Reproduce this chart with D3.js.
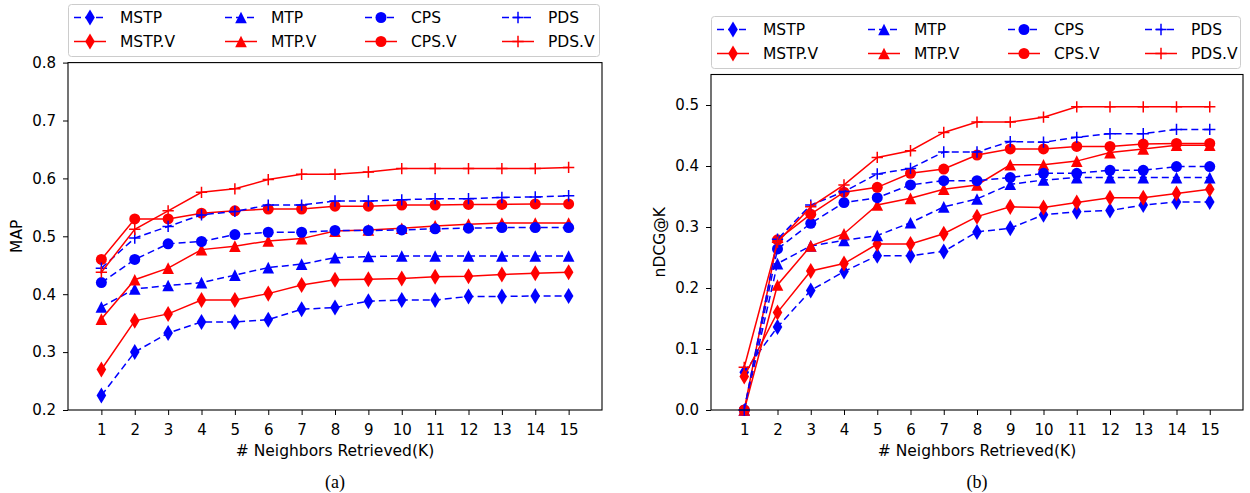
<!DOCTYPE html>
<html>
<head>
<meta charset="utf-8">
<script src="https://cdn.jsdelivr.net/npm/d3@7/dist/d3.min.js"></script>
<style>
  body { margin: 0; background: #fff; }
  svg { display: block; }
  text { font-family: "DejaVu Sans", sans-serif; fill: #000; }
</style>
</head>
<body>
<svg id="chart" width="1250" height="493"></svg>
<script>
// K values on the x axis
var ks = [1, 2, 3, 4, 5, 6, 7, 8, 9, 10, 11, 12, 13, 14, 15];

// (a) MAP
var mapMSTP  = [0.225, 0.300, 0.333, 0.352, 0.352, 0.356, 0.374, 0.377, 0.388, 0.390, 0.390, 0.396, 0.396, 0.397, 0.397];
var mapMSTPV = [0.270, 0.354, 0.366, 0.390, 0.390, 0.401, 0.416, 0.425, 0.426, 0.427, 0.430, 0.431, 0.434, 0.436, 0.438];
var mapMTP   = [0.378, 0.409, 0.415, 0.420, 0.433, 0.446, 0.452, 0.463, 0.465, 0.466, 0.466, 0.466, 0.466, 0.466, 0.466];
var mapMTPV  = [0.357, 0.425, 0.445, 0.477, 0.483, 0.492, 0.496, 0.509, 0.511, 0.514, 0.518, 0.521, 0.523, 0.523, 0.523];
var mapCPS   = [0.420, 0.460, 0.487, 0.491, 0.503, 0.507, 0.507, 0.510, 0.510, 0.511, 0.513, 0.514, 0.515, 0.515, 0.515];
var mapCPSV  = [0.460, 0.530, 0.530, 0.540, 0.544, 0.547, 0.547, 0.552, 0.552, 0.554, 0.554, 0.555, 0.555, 0.556, 0.556];
var mapPDS   = [0.445, 0.497, 0.517, 0.537, 0.543, 0.554, 0.554, 0.561, 0.561, 0.563, 0.565, 0.565, 0.567, 0.568, 0.570];
var mapPDSV  = [0.438, 0.512, 0.544, 0.576, 0.582, 0.598, 0.607, 0.607, 0.611, 0.617, 0.617, 0.617, 0.617, 0.617, 0.619];

// (b) nDCG@K
var ndcgMSTP  = [0.062, 0.136, 0.196, 0.227, 0.253, 0.253, 0.260, 0.292, 0.298, 0.320, 0.325, 0.327, 0.336, 0.341, 0.341];
var ndcgMSTPV = [0.055, 0.160, 0.228, 0.240, 0.272, 0.272, 0.289, 0.317, 0.333, 0.332, 0.340, 0.348, 0.348, 0.355, 0.362];
var ndcgMTP   = [0.000, 0.240, 0.269, 0.278, 0.286, 0.307, 0.333, 0.346, 0.370, 0.377, 0.381, 0.381, 0.381, 0.381, 0.381];
var ndcgMTPV  = [0.000, 0.205, 0.269, 0.289, 0.336, 0.347, 0.362, 0.369, 0.402, 0.402, 0.408, 0.422, 0.428, 0.434, 0.434];
var ndcgCPS   = [0.000, 0.264, 0.306, 0.340, 0.348, 0.369, 0.376, 0.376, 0.381, 0.388, 0.388, 0.393, 0.393, 0.399, 0.399];
var ndcgCPSV  = [0.000, 0.279, 0.321, 0.357, 0.365, 0.388, 0.395, 0.418, 0.428, 0.428, 0.432, 0.432, 0.436, 0.437, 0.437];
var ndcgPDS   = [0.000, 0.280, 0.336, 0.358, 0.387, 0.396, 0.423, 0.423, 0.440, 0.439, 0.447, 0.453, 0.453, 0.460, 0.460];
var ndcgPDSV  = [0.070, 0.275, 0.333, 0.369, 0.414, 0.425, 0.455, 0.472, 0.472, 0.480, 0.497, 0.497, 0.497, 0.497, 0.497];

var seriesNames = ["MSTP", "MSTP.V", "MTP", "MTP.V", "CPS", "CPS.V", "PDS", "PDS.V"];
var mapTicks  = [0.2, 0.3, 0.4, 0.5, 0.6, 0.7, 0.8];
var ndcgTicks = [0.0, 0.1, 0.2, 0.3, 0.4, 0.5];

var svg = d3.select("#chart");

// matplotlib-like marker shapes
var thinDiamond = {
    draw: function(ctx, size) {
        var h = Math.sqrt(size) * 0.95, w = h * 0.6;
        ctx.moveTo(0, -h); ctx.lineTo(w, 0); ctx.lineTo(0, h); ctx.lineTo(-w, 0); ctx.closePath();
    }
};
var triUp = {
    draw: function(ctx, size) {
        var r = Math.sqrt(size) * 0.75;
        ctx.moveTo(0, -r); ctx.lineTo(r, r); ctx.lineTo(-r, r); ctx.closePath();
    }
};
var plusMark = {
    draw: function(ctx, size) {
        var r = Math.sqrt(size) * 0.8;
        ctx.moveTo(-r, 0); ctx.lineTo(r, 0); ctx.moveTo(0, -r); ctx.lineTo(0, r);
    }
};

function styleOf(name) {
    var red = name.indexOf(".V") >= 0;
    var base = name.replace(".V", "");
    var shape = {MSTP: thinDiamond, MTP: triUp, CPS: d3.symbolCircle, PDS: plusMark}[base];
    var size = {MSTP: 71, MTP: 60, CPS: 95, PDS: 50}[base];
    return {
        color: red ? "#ff0000" : "#0000ff",
        dash: red ? null : "7,4",
        shape: shape,
        size: size,
        stroked: base == "PDS"
    };
}

function drawMarker(g, st, x, y) {
    var p = g.append("path")
        .attr("d", d3.symbol().type(st.shape).size(st.size)())
        .attr("transform", "translate(" + x + "," + y + ")");
    if (st.stroked) {
        p.attr("fill", "none").attr("stroke", st.color).attr("stroke-width", 1.5);
    } else {
        p.attr("fill", st.color).attr("stroke", "none");
    }
}

function drawPanel(opt) {
    var g = svg.append("g");
    var x = d3.scaleLinear().domain([0, 16]).range([opt.left, opt.right]);
    var y = d3.scaleLinear().domain(opt.ydomain).range([opt.bottom, opt.bottom - (opt.ydomain[1] - opt.ydomain[0]) * opt.pxPerUnit]);
    var top = y(opt.ydomain[1]);

    // x axis
    var xa = g.append("g")
        .attr("transform", "translate(0," + opt.bottom + ")")
        .call(d3.axisBottom(x).tickValues(ks).tickSize(5).tickPadding(9).tickFormat(d3.format("d")));
    xa.select(".domain").remove();
    xa.selectAll("text").style("font-size", "15px").style("font-family", "DejaVu Sans");
    xa.selectAll("line").attr("stroke-width", 1);

    // y axis
    var ya = g.append("g")
        .attr("transform", "translate(" + opt.left + ",0)")
        .call(d3.axisLeft(y).tickValues(opt.yticks).tickSize(5).tickPadding(7).tickFormat(d3.format(".1f")));
    ya.select(".domain").remove();
    ya.selectAll("text").style("font-size", "15px").style("font-family", "DejaVu Sans");

    // lines + markers
    var line = d3.line().x(function(d) { return x(d[0]); }).y(function(d) { return y(d[1]); });
    opt.series.forEach(function(vals, i) {
        var st = styleOf(seriesNames[i]);
        var pts = ks.map(function(k, j) { return [k, vals[j]]; });
        g.append("path")
            .attr("d", line(pts))
            .attr("fill", "none")
            .attr("stroke", st.color)
            .attr("stroke-width", 1.5)
            .attr("stroke-dasharray", st.dash);
        pts.forEach(function(p) { drawMarker(g, st, x(p[0]), y(p[1])); });
    });

    // frame
    g.append("rect")
        .attr("x", opt.left).attr("y", top)
        .attr("width", opt.right - opt.left).attr("height", opt.bottom - top)
        .attr("fill", "none").attr("stroke", "#000").attr("stroke-width", 1.1);

    // labels
    g.append("text")
        .attr("x", (opt.left + opt.right) / 2).attr("y", opt.bottom + 46)
        .attr("text-anchor", "middle").style("font-size", "15.5px")
        .text("# Neighbors Retrieved(K)");
    g.append("text")
        .attr("transform", "translate(" + (opt.left - 46) + "," + ((top + opt.bottom) / 2) + ") rotate(-90)")
        .attr("text-anchor", "middle").style("font-size", "15.5px")
        .text(opt.ylabel);
    g.append("text")
        .attr("x", (opt.left + opt.right) / 2).attr("y", opt.bottom + 78)
        .attr("text-anchor", "middle")
        .style("font-family", "'Liberation Serif', 'Times New Roman', serif").style("font-size", "18px")
        .text(opt.caption);

    // legend
    var lg = g.append("g").attr("transform", "translate(" + opt.left + "," + opt.legendTop + ")");
    var lw = opt.right - opt.left - 3;
    lg.append("rect")
        .attr("x", 0.5).attr("y", 0.5).attr("width", lw).attr("height", 52)
        .attr("rx", 3).attr("fill", "#fff").attr("fill-opacity", 0.85)
        .attr("stroke", "#cccccc").attr("stroke-width", 1);
    var colX = [6, 157, 297, 434];
    var rowY = [13.5, 37.5];
    seriesNames.forEach(function(name, i) {
        var st = styleOf(name);
        var cx = colX[Math.floor(i / 2)], cy = rowY[i % 2];
        lg.append("line")
            .attr("x1", cx).attr("x2", cx + 32).attr("y1", cy).attr("y2", cy)
            .attr("stroke", st.color).attr("stroke-width", 1.5)
            .attr("stroke-dasharray", st.dash);
        drawMarker(lg, st, cx + 16, cy);
        lg.append("text")
            .attr("x", cx + 46).attr("y", cy).attr("dy", "0.36em")
            .style("font-size", "15.5px")
            .text(name);
    });
}

drawPanel({
    left: 68, right: 602, bottom: 410, pxPerUnit: 579,
    ydomain: [0.2, 0.8], yticks: mapTicks, ylabel: "MAP", caption: "(a)",
    legendTop: 4,
    series: [mapMSTP, mapMSTPV, mapMTP, mapMTPV, mapCPS, mapCPSV, mapPDS, mapPDSV]
});

drawPanel({
    left: 711, right: 1243, bottom: 410, pxPerUnit: 610,
    ydomain: [0, 0.55], yticks: ndcgTicks, ylabel: "nDCG@K", caption: "(b)",
    legendTop: 16,
    series: [ndcgMSTP, ndcgMSTPV, ndcgMTP, ndcgMTPV, ndcgCPS, ndcgCPSV, ndcgPDS, ndcgPDSV]
});
</script>
</body>
</html>
